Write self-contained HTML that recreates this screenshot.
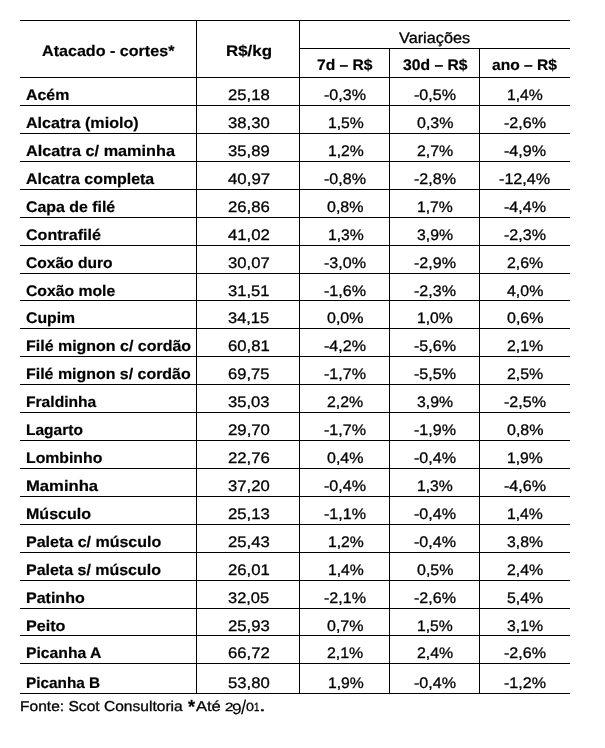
<!DOCTYPE html>
<html lang="pt-BR">
<head>
<meta charset="utf-8">
<title>Atacado - cortes</title>
<style>
html,body{margin:0;padding:0;background:#fff;}
body{width:605px;height:748px;position:relative;overflow:hidden;font-family:"Liberation Sans",sans-serif;color:#000;}
.h{position:absolute;left:20px;width:550px;height:1px;background:#000;}
.v{position:absolute;width:1px;background:#000;}
.t{position:absolute;white-space:nowrap;font-size:15.3px;line-height:20px;transform-origin:0 14.0px;text-rendering:geometricPrecision;}
.txt{position:absolute;left:0;top:0;width:605px;height:748px;will-change:transform;}
.foot{position:absolute;left:0;white-space:nowrap;font-size:15.3px;line-height:20px;}
.f{position:relative;display:inline-block;vertical-align:top;}
.b{font-weight:bold;-webkit-text-stroke:0.2px #000;}
.r{font-weight:normal;-webkit-text-stroke:0.3px #000;}
</style>
</head>
<body>
<div class="h" style="top:20px"></div>
<div class="h" style="top:77px"></div>
<div class="h" style="top:105px"></div>
<div class="h" style="top:133px"></div>
<div class="h" style="top:161px"></div>
<div class="h" style="top:189px"></div>
<div class="h" style="top:217px"></div>
<div class="h" style="top:245px"></div>
<div class="h" style="top:273px"></div>
<div class="h" style="top:300px"></div>
<div class="h" style="top:328px"></div>
<div class="h" style="top:356px"></div>
<div class="h" style="top:384px"></div>
<div class="h" style="top:412px"></div>
<div class="h" style="top:440px"></div>
<div class="h" style="top:468px"></div>
<div class="h" style="top:496px"></div>
<div class="h" style="top:524px"></div>
<div class="h" style="top:552px"></div>
<div class="h" style="top:580px"></div>
<div class="h" style="top:608px"></div>
<div class="h" style="top:635px"></div>
<div class="h" style="top:663px"></div>
<div class="h" style="top:693px"></div>
<div class="h" style="top:48px;left:299px;width:271px"></div>
<div class="v" style="left:196px;top:20px;height:674px"></div>
<div class="v" style="left:299px;top:20px;height:674px"></div>
<div class="v" style="left:389px;top:48px;height:646px"></div>
<div class="v" style="left:479px;top:48px;height:646px"></div>
<div class="txt">
<span class="t b" style="left:41.80px;top:42.00px;transform:scaleX(1.0524);">Atacado - cortes*</span>
<span class="t b" style="left:226.40px;top:42.00px;transform:scaleX(1.1044)">R$/kg</span>
<span class="t r" style="left:399.43px;top:28.50px;transform:scaleX(1.0630)">Variações</span>
<span class="t b" style="left:317.26px;top:56.00px;transform:scaleX(1.0203)">7d – R$</span>
<span class="t b" style="left:402.78px;top:56.00px;transform:scaleX(1.0251)">30d – R$</span>
<span class="t b" style="left:492.25px;top:56.00px;transform:scaleX(1.0191)">ano – R$</span>
<span class="t b" style="left:25.85px;top:86.00px;transform:scaleX(1.0391)">Acém</span>
<span class="t r" style="left:228.10px;top:86.00px;transform:scaleX(1.0911)">25,18</span>
<span class="t r" style="left:324.31px;top:86.00px;transform:scaleX(1.0500)">-0,3%</span>
<span class="t r" style="left:414.21px;top:86.00px;transform:scaleX(1.0500)">-0,5%</span>
<span class="t r" style="left:507.28px;top:86.00px;transform:scaleX(1.0278)">1,4%</span>
<span class="t b" style="left:25.84px;top:114.00px;transform:scaleX(1.0517)">Alcatra (miolo)</span>
<span class="t r" style="left:228.36px;top:114.00px;transform:scaleX(1.0882)">38,30</span>
<span class="t r" style="left:327.58px;top:114.00px;transform:scaleX(1.0278)">1,5%</span>
<span class="t r" style="left:416.87px;top:114.00px;transform:scaleX(1.0455)">0,3%</span>
<span class="t r" style="left:504.01px;top:114.00px;transform:scaleX(1.0500)">-2,6%</span>
<span class="t b" style="left:25.84px;top:142.00px;transform:scaleX(1.0618)">Alcatra c/ maminha</span>
<span class="t r" style="left:228.36px;top:142.00px;transform:scaleX(1.0878)">35,89</span>
<span class="t r" style="left:327.58px;top:142.00px;transform:scaleX(1.0278)">1,2%</span>
<span class="t r" style="left:417.08px;top:142.00px;transform:scaleX(1.0393)">2,7%</span>
<span class="t r" style="left:504.01px;top:142.00px;transform:scaleX(1.0500)">-4,9%</span>
<span class="t b" style="left:25.85px;top:170.00px;transform:scaleX(1.0397)">Alcatra completa</span>
<span class="t r" style="left:228.05px;top:170.00px;transform:scaleX(1.0994)">40,97</span>
<span class="t r" style="left:324.31px;top:170.00px;transform:scaleX(1.0500)">-0,8%</span>
<span class="t r" style="left:414.21px;top:170.00px;transform:scaleX(1.0500)">-2,8%</span>
<span class="t r" style="left:499.35px;top:170.00px;transform:scaleX(1.0566)">-12,4%</span>
<span class="t b" style="left:25.93px;top:198.00px;transform:scaleX(1.0386)">Capa de filé</span>
<span class="t r" style="left:228.10px;top:198.00px;transform:scaleX(1.0936)">26,86</span>
<span class="t r" style="left:326.97px;top:198.00px;transform:scaleX(1.0455)">0,8%</span>
<span class="t r" style="left:417.48px;top:198.00px;transform:scaleX(1.0278)">1,7%</span>
<span class="t r" style="left:504.01px;top:198.00px;transform:scaleX(1.0500)">-4,4%</span>
<span class="t b" style="left:25.93px;top:226.00px;transform:scaleX(1.0485)">Contrafilé</span>
<span class="t r" style="left:228.05px;top:226.00px;transform:scaleX(1.0945)">41,02</span>
<span class="t r" style="left:327.58px;top:226.00px;transform:scaleX(1.0278)">1,3%</span>
<span class="t r" style="left:417.33px;top:226.00px;transform:scaleX(1.0321)">3,9%</span>
<span class="t r" style="left:504.01px;top:226.00px;transform:scaleX(1.0500)">-2,3%</span>
<span class="t b" style="left:25.94px;top:254.00px;transform:scaleX(1.0187)">Coxão duro</span>
<span class="t r" style="left:228.36px;top:254.00px;transform:scaleX(1.0913)">30,07</span>
<span class="t r" style="left:324.31px;top:254.00px;transform:scaleX(1.0500)">-3,0%</span>
<span class="t r" style="left:414.21px;top:254.00px;transform:scaleX(1.0500)">-2,9%</span>
<span class="t r" style="left:506.88px;top:254.00px;transform:scaleX(1.0393)">2,6%</span>
<span class="t b" style="left:25.94px;top:282.00px;transform:scaleX(1.0284)">Coxão mole</span>
<span class="t r" style="left:228.36px;top:282.00px;transform:scaleX(1.0840)">31,51</span>
<span class="t r" style="left:324.31px;top:282.00px;transform:scaleX(1.0500)">-1,6%</span>
<span class="t r" style="left:414.21px;top:282.00px;transform:scaleX(1.0500)">-2,3%</span>
<span class="t r" style="left:506.81px;top:282.00px;transform:scaleX(1.0413)">4,0%</span>
<span class="t b" style="left:25.94px;top:309.00px;transform:scaleX(1.0310)">Cupim</span>
<span class="t r" style="left:228.37px;top:309.00px;transform:scaleX(1.0732)">34,15</span>
<span class="t r" style="left:326.97px;top:309.00px;transform:scaleX(1.0455)">0,0%</span>
<span class="t r" style="left:417.48px;top:309.00px;transform:scaleX(1.0278)">1,0%</span>
<span class="t r" style="left:506.67px;top:309.00px;transform:scaleX(1.0455)">0,6%</span>
<span class="t b" style="left:26.09px;top:337.00px;transform:scaleX(1.0440)">Filé mignon c/ cordão</span>
<span class="t r" style="left:228.10px;top:337.00px;transform:scaleX(1.0909)">60,81</span>
<span class="t r" style="left:324.31px;top:337.00px;transform:scaleX(1.0500)">-4,2%</span>
<span class="t r" style="left:414.21px;top:337.00px;transform:scaleX(1.0500)">-5,6%</span>
<span class="t r" style="left:506.88px;top:337.00px;transform:scaleX(1.0393)">2,1%</span>
<span class="t b" style="left:26.09px;top:365.00px;transform:scaleX(1.0417)">Filé mignon s/ cordão</span>
<span class="t r" style="left:228.11px;top:365.00px;transform:scaleX(1.0800)">69,75</span>
<span class="t r" style="left:324.31px;top:365.00px;transform:scaleX(1.0500)">-1,7%</span>
<span class="t r" style="left:414.21px;top:365.00px;transform:scaleX(1.0500)">-5,5%</span>
<span class="t r" style="left:506.88px;top:365.00px;transform:scaleX(1.0393)">2,5%</span>
<span class="t b" style="left:26.11px;top:393.00px;transform:scaleX(1.0204)">Fraldinha</span>
<span class="t r" style="left:228.36px;top:393.00px;transform:scaleX(1.0855)">35,03</span>
<span class="t r" style="left:327.18px;top:393.00px;transform:scaleX(1.0393)">2,2%</span>
<span class="t r" style="left:417.33px;top:393.00px;transform:scaleX(1.0321)">3,9%</span>
<span class="t r" style="left:504.01px;top:393.00px;transform:scaleX(1.0500)">-2,5%</span>
<span class="t b" style="left:26.12px;top:421.00px;transform:scaleX(1.0150)">Lagarto</span>
<span class="t r" style="left:228.10px;top:421.00px;transform:scaleX(1.0951)">29,70</span>
<span class="t r" style="left:324.31px;top:421.00px;transform:scaleX(1.0500)">-1,7%</span>
<span class="t r" style="left:414.21px;top:421.00px;transform:scaleX(1.0500)">-1,9%</span>
<span class="t r" style="left:506.67px;top:421.00px;transform:scaleX(1.0455)">0,8%</span>
<span class="t b" style="left:26.10px;top:449.00px;transform:scaleX(1.0325)">Lombinho</span>
<span class="t r" style="left:228.10px;top:449.00px;transform:scaleX(1.0936)">22,76</span>
<span class="t r" style="left:326.97px;top:449.00px;transform:scaleX(1.0455)">0,4%</span>
<span class="t r" style="left:414.21px;top:449.00px;transform:scaleX(1.0500)">-0,4%</span>
<span class="t r" style="left:507.28px;top:449.00px;transform:scaleX(1.0278)">1,9%</span>
<span class="t b" style="left:26.32px;top:477.00px;transform:scaleX(1.0878)">Maminha</span>
<span class="t r" style="left:228.36px;top:477.00px;transform:scaleX(1.0882)">37,20</span>
<span class="t r" style="left:324.31px;top:477.00px;transform:scaleX(1.0500)">-0,4%</span>
<span class="t r" style="left:417.48px;top:477.00px;transform:scaleX(1.0278)">1,3%</span>
<span class="t r" style="left:504.01px;top:477.00px;transform:scaleX(1.0500)">-4,6%</span>
<span class="t b" style="left:26.36px;top:505.00px;transform:scaleX(1.0475)">Músculo</span>
<span class="t r" style="left:228.10px;top:505.00px;transform:scaleX(1.0924)">25,13</span>
<span class="t r" style="left:324.31px;top:505.00px;transform:scaleX(1.0500)">-1,1%</span>
<span class="t r" style="left:414.21px;top:505.00px;transform:scaleX(1.0500)">-0,4%</span>
<span class="t r" style="left:507.28px;top:505.00px;transform:scaleX(1.0278)">1,4%</span>
<span class="t b" style="left:26.13px;top:533.00px;transform:scaleX(1.0470)">Paleta c/ músculo</span>
<span class="t r" style="left:228.10px;top:533.00px;transform:scaleX(1.0924)">25,43</span>
<span class="t r" style="left:327.58px;top:533.00px;transform:scaleX(1.0278)">1,2%</span>
<span class="t r" style="left:414.21px;top:533.00px;transform:scaleX(1.0500)">-0,4%</span>
<span class="t r" style="left:507.13px;top:533.00px;transform:scaleX(1.0321)">3,8%</span>
<span class="t b" style="left:26.13px;top:561.00px;transform:scaleX(1.0441)">Paleta s/ músculo</span>
<span class="t r" style="left:228.10px;top:561.00px;transform:scaleX(1.0909)">26,01</span>
<span class="t r" style="left:327.58px;top:561.00px;transform:scaleX(1.0278)">1,4%</span>
<span class="t r" style="left:416.87px;top:561.00px;transform:scaleX(1.0455)">0,5%</span>
<span class="t r" style="left:506.88px;top:561.00px;transform:scaleX(1.0393)">2,4%</span>
<span class="t b" style="left:26.13px;top:589.00px;transform:scaleX(1.0469)">Patinho</span>
<span class="t r" style="left:228.37px;top:589.00px;transform:scaleX(1.0732)">32,05</span>
<span class="t r" style="left:324.31px;top:589.00px;transform:scaleX(1.0500)">-2,1%</span>
<span class="t r" style="left:414.21px;top:589.00px;transform:scaleX(1.0500)">-2,6%</span>
<span class="t r" style="left:507.04px;top:589.00px;transform:scaleX(1.0346)">5,4%</span>
<span class="t b" style="left:26.12px;top:617.00px;transform:scaleX(1.0533)">Peito</span>
<span class="t r" style="left:228.10px;top:617.00px;transform:scaleX(1.0924)">25,93</span>
<span class="t r" style="left:326.97px;top:617.00px;transform:scaleX(1.0455)">0,7%</span>
<span class="t r" style="left:417.48px;top:617.00px;transform:scaleX(1.0278)">1,5%</span>
<span class="t r" style="left:507.13px;top:617.00px;transform:scaleX(1.0321)">3,1%</span>
<span class="t b" style="left:26.15px;top:644.00px;transform:scaleX(1.0272)">Picanha A</span>
<span class="t r" style="left:228.10px;top:644.00px;transform:scaleX(1.0933)">66,72</span>
<span class="t r" style="left:327.18px;top:644.00px;transform:scaleX(1.0393)">2,1%</span>
<span class="t r" style="left:417.08px;top:644.00px;transform:scaleX(1.0393)">2,4%</span>
<span class="t r" style="left:504.01px;top:644.00px;transform:scaleX(1.0500)">-2,6%</span>
<span class="t b" style="left:26.17px;top:674.00px;transform:scaleX(1.0032)">Picanha B</span>
<span class="t r" style="left:228.27px;top:674.00px;transform:scaleX(1.0905)">53,80</span>
<span class="t r" style="left:327.58px;top:674.00px;transform:scaleX(1.0278)">1,9%</span>
<span class="t r" style="left:414.21px;top:674.00px;transform:scaleX(1.0500)">-0,4%</span>
<span class="t r" style="left:504.01px;top:674.00px;transform:scaleX(1.0500)">-1,2%</span>
<div class="foot" style="top:690.00px"><span class="t f r" style="left:20.32px;top:6.70px;font-size:14.3px;transform:scaleX(1.0893);">Fonte: Scot Consultoria</span> <span class="t f b" style="left:34.59px;top:7.70px;font-size:19px;transform:scaleX(0.9569);">*</span><span class="t f r" style="left:34.90px;top:6.70px;font-size:14.3px;transform:scaleX(1.1535);">Até</span> <span class="t f r" style="left:37.96px;top:6.70px;font-size:12.5px;transform-origin:0 14px;transform:scale(1.2132,0.9500);">2</span><span class="t f r" style="left:37.85px;top:9.90px;transform:scaleX(1.1305);-webkit-text-stroke:0.1px #000;">9</span><span class="t f r" style="left:38.55px;top:7.50px;font-size:20px;transform:scaleX(0.9369);-webkit-text-stroke:0;">/</span><span class="t f r" style="left:38.23px;top:6.70px;font-size:12.5px;transform-origin:0 14px;transform:scale(1.1393,0.9500);">0</span><span class="t f r" style="left:39.12px;top:6.70px;font-size:12.5px;transform-origin:0 14px;transform:scale(0.7769,0.9500);">1</span><span class="t f r" style="left:37.64px;top:6.70px;transform:scaleX(1.5824);">.</span></div>
</div>
</body>
</html>
